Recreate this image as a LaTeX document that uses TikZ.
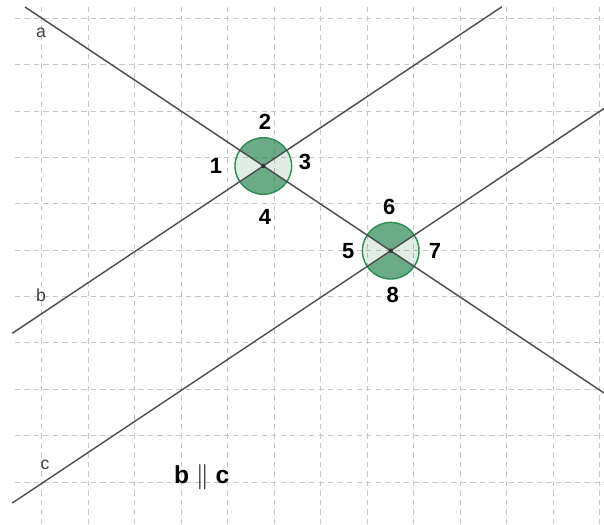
\documentclass[tikz,border=0pt]{standalone}
\usepackage{fontspec}
\setmainfont{Liberation Sans}
\usepackage{tikz}
\definecolor{anglegreen}{RGB}{0,110,50}
\definecolor{rimgreen}{RGB}{45,140,80}

\begin{document}
\begin{tikzpicture}[
    x=0.02cm, y=0.02cm,
    gridline/.style={draw=black!22, line width=0.5pt, dash pattern=on 3pt off 2.4pt},
    lineobj/.style={draw=black!70, line width=0.8pt},
    lname/.style={font=\fontsize{10}{12}\selectfont, text=black!75, inner sep=0pt},
    num/.style={font=\bfseries\fontsize{12.5}{14}\selectfont, inner sep=0pt},
    angdark/.style={fill=anglegreen, fill opacity=0.58},
    anglight/.style={fill=anglegreen, fill opacity=0.12},
    rim/.style={draw=rimgreen, line width=0.8pt}
]
\useasboundingbox (0,0) rectangle (604,524);

% Grid
\foreach \k in {0,...,12}
    \draw[gridline] ({41.7+46.5*\k},0) -- ({41.7+46.5*\k},517);
\foreach \k in {0,...,10}
    \draw[gridline] (15,{505.7-46.37*\k}) -- (604,{505.7-46.37*\k});

% Intersections
\coordinate (P) at (263.3,358);
\coordinate (Q) at (390.7,273.3);

% Angle marks
\foreach \c in {P,Q} {
    \fill[anglight] (\c) -- ++(-33.69:28.3) arc[start angle=-33.69, end angle=33.69, radius=28.3] -- cycle;
    \fill[anglight] (\c) -- ++(146.31:28.3) arc[start angle=146.31, end angle=213.69, radius=28.3] -- cycle;
    \fill[angdark] (\c) -- ++(33.69:28.3) arc[start angle=33.69, end angle=146.31, radius=28.3] -- cycle;
    \fill[angdark] (\c) -- ++(213.69:28.3) arc[start angle=213.69, end angle=326.31, radius=28.3] -- cycle;
    \draw[rim] (\c) circle[radius=28.3];
}

% Lines
\coordinate (a1) at (25,517);
\coordinate (a2) at (604,131);
\coordinate (b1) at (12.3,190.7);
\coordinate (b2) at (502,517.3);
\coordinate (c1) at (12.3,21);
\coordinate (c2) at (604,415.5);
\draw[lineobj] (a1) -- (a2);
\draw[lineobj] (b1) -- (b2);
\draw[lineobj] (c1) -- (c2);
\fill[black!80] (P) circle[radius=2.2];
\fill[black!80] (Q) circle[radius=2.2];

% Line names
\node[lname] (na) at (41,490.7) {a};
\node[lname] (nb) at (41,228.3) {b};
\node[lname] (nc) at (45,59) {c};

% Angle numbers
\node[num] (n1) at (216,358.3) {1};
\node[num] (n2) at (265,402.3) {2};
\node[num] (n3) at (305,362.3) {3};
\node[num] (n4) at (265,307.3) {4};
\node[num] (n5) at (348.3,273) {5};
\node[num] (n6) at (389.3,317.3) {6};
\node[num] (n7) at (435,273) {7};
\node[num] (n8) at (392.7,229) {8};

\node[num, font=\bfseries\fontsize{14}{16}\selectfont] (par) at (201.7,47.3) {b $\parallel$ c};

\end{tikzpicture}
\end{document}
